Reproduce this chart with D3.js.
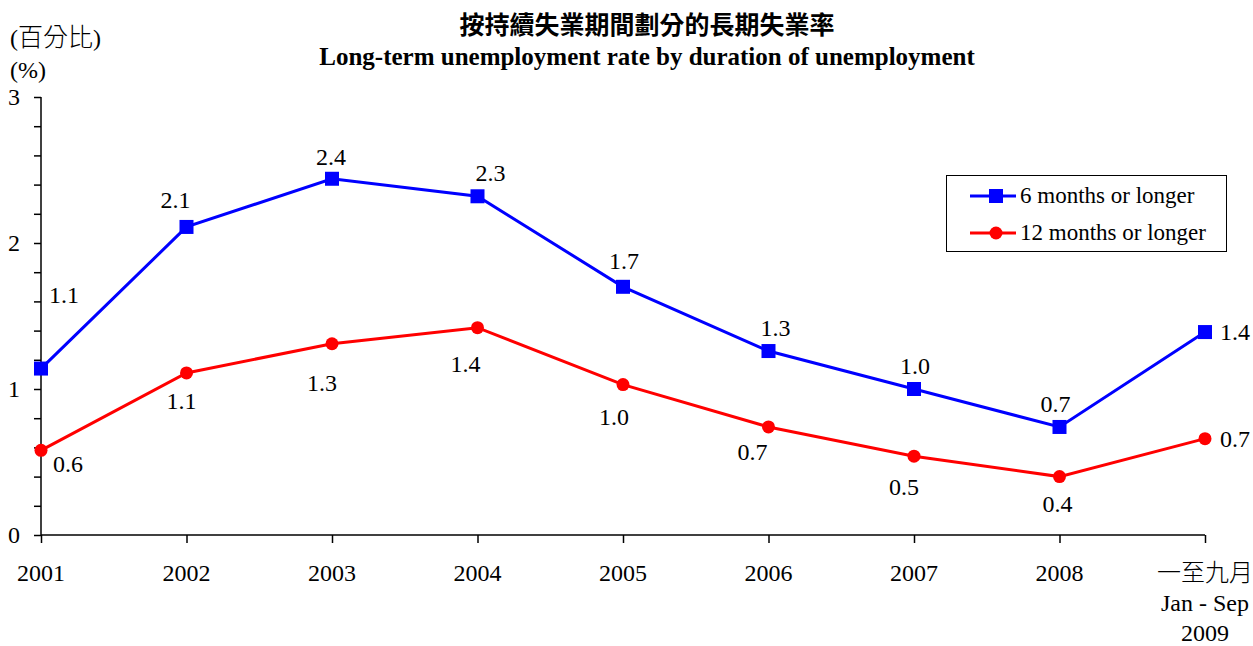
<!DOCTYPE html>
<html><head><meta charset="utf-8">
<script src="https://cdn.jsdelivr.net/npm/d3@7"></script>
<style>body{margin:0;background:#fff}svg{display:block}</style>
</head><body><svg id="c" width="1253" height="646"></svg>
<script>
const categories = ["2001","2002","2003","2004","2005","2006","2007","2008","2009"];
const sixMonths = [1.14, 2.11, 2.44, 2.32, 1.70, 1.26, 1.00, 0.74, 1.39];
const twelveMonths = [0.58, 1.11, 1.31, 1.42, 1.03, 0.74, 0.54, 0.40, 0.66];
const yTicks = [0, 1, 2, 3];
const seriesNames = ["6 months or longer", "12 months or longer"];
const titleZh = "按持續失業期間劃分的長期失業率";
const titleEn = "Long-term unemployment rate by duration of unemployment";
const lastCatLines = ["一至九月", "Jan - Sep", "2009"];
// label layout offsets (px) relative to each point
const blueOffsets = [[23,-74],[-11,-27],[-1,-22],[13,-23],[1,-26],[7,-23],[1,-23],[-4,-23],[30,0]];
const redOffsets = [[27,14],[-5,28],[-10,39],[-12,36],[-9,32],[-16,25],[-10,31],[-2,27],[30,0]];

const svg = d3.select("#c");
const serif = "Liberation Serif, Times New Roman, serif";
const cjk = "Noto Sans CJK TC, Noto Sans CJK SC, sans-serif";

const x = d3.scalePoint().domain(categories).range([41, 1205]);
const y = d3.scaleLinear().domain([0, 3]).range([535, 97]);

// titles
svg.append("text").attr("x", 647).attr("y", 34).attr("text-anchor","middle")
  .attr("font-family", cjk).attr("font-weight", 700).attr("font-size", 25).text(titleZh);
svg.append("text").attr("x", 647).attr("y", 65).attr("text-anchor","middle")
  .attr("font-family", serif).attr("font-weight", "bold").attr("font-size", 25).text(titleEn);
svg.append("text").attr("x", 10).attr("y", 46)
  .attr("font-family", serif).attr("font-size", 24)
  .call(t => { t.append("tspan").text("("); t.append("tspan").attr("font-family", cjk).attr("font-weight", 300).attr("font-size", 25).text("百分比"); t.append("tspan").text(")"); });
svg.append("text").attr("x", 10).attr("y", 78).attr("font-family", serif).attr("font-size", 24).text("(%)");

// y axis
const yAxis = d3.axisLeft(y).tickValues(d3.range(0, 3.0001, 0.2)).tickSize(7).tickFormat("");
const gy = svg.append("g").attr("transform","translate(41,0)").call(yAxis);
gy.select(".domain").attr("stroke","#000").attr("stroke-width",1.5).attr("d","M0,97V535");
gy.selectAll(".tick line").attr("stroke","#000").attr("stroke-width",1.5);
svg.selectAll(".ylab").data(yTicks).enter().append("text")
  .attr("x", 20).attr("y", d => y(d) + 8).attr("text-anchor","end")
  .attr("font-family", serif).attr("font-size", 24).text(d => d);

// x axis
const xAxis = d3.axisBottom(x).tickSize(8).tickFormat("");
const gx = svg.append("g").attr("transform", `translate(0,${y(0)})`).call(xAxis);
gx.select(".domain").attr("stroke","#000").attr("stroke-width",1.5).attr("d","M41,0H1205");
gx.selectAll(".tick line").attr("stroke","#000").attr("stroke-width",1.5);
svg.selectAll(".xlab").data(categories.slice(0, -1)).enter().append("text")
  .attr("x", d => x(d)).attr("y", 581).attr("text-anchor","middle")
  .attr("font-family", serif).attr("font-size", 24).text(d => d);
lastCatLines.forEach((s, i) => {
  svg.append("text").attr("x", x(categories[categories.length-1])).attr("y", 581 + i*30)
    .attr("text-anchor","middle").attr("font-family", i === 0 ? cjk : serif)
    .attr("font-size", 24).attr("font-weight", i === 0 ? 300 : 400).text(s);
});

const line = d3.line().x((d,i) => x(categories[i])).y(d => y(d));
svg.append("path").datum(twelveMonths).attr("d", line).attr("fill","none").attr("stroke","#ff0000").attr("stroke-width",3);
svg.append("path").datum(sixMonths).attr("d", line).attr("fill","none").attr("stroke","#0000ff").attr("stroke-width",3);

svg.selectAll(".sq").data(sixMonths).enter().append("rect")
  .attr("x", (d,i) => x(categories[i]) - 7).attr("y", d => y(d) - 7)
  .attr("width", 14).attr("height", 14).attr("fill", "#0000ff");
svg.selectAll(".dot").data(twelveMonths).enter().append("circle")
  .attr("cx", (d,i) => x(categories[i])).attr("cy", d => y(d)).attr("r", 6.5).attr("fill", "#ff0000");

const fmt = d3.format(".1f");
svg.selectAll(".bl").data(sixMonths).enter().append("text")
  .attr("x", (d,i) => x(categories[i]) + blueOffsets[i][0]).attr("y", (d,i) => y(d) + blueOffsets[i][1] + 8)
  .attr("text-anchor","middle").attr("font-family", serif).attr("font-size", 24).text(d => fmt(d));
svg.selectAll(".rl").data(twelveMonths).enter().append("text")
  .attr("x", (d,i) => x(categories[i]) + redOffsets[i][0]).attr("y", (d,i) => y(d) + redOffsets[i][1] + 8)
  .attr("text-anchor","middle").attr("font-family", serif).attr("font-size", 24).text(d => fmt(d));

// legend
const lg = svg.append("g");
lg.append("rect").attr("x", 946.5).attr("y", 175.5).attr("width", 280).attr("height", 76)
  .attr("fill","#fff").attr("stroke","#000").attr("stroke-width",1);
[["#0000ff","sq"],["#ff0000","ci"]].forEach(([c, m], i) => {
  const yy = 196 + i*37;
  lg.append("line").attr("x1", 970).attr("x2", 1016).attr("y1", yy).attr("y2", yy).attr("stroke", c).attr("stroke-width", 3);
  if (m === "sq") lg.append("rect").attr("x", 989).attr("y", yy-7).attr("width",14).attr("height",14).attr("fill",c);
  else lg.append("circle").attr("cx", 996).attr("cy", yy).attr("r", 6.5).attr("fill", c);
  lg.append("text").attr("x", 1020).attr("y", yy + 7).attr("font-family", serif).attr("font-size", 23).text(seriesNames[i]);
});
</script></body></html>
